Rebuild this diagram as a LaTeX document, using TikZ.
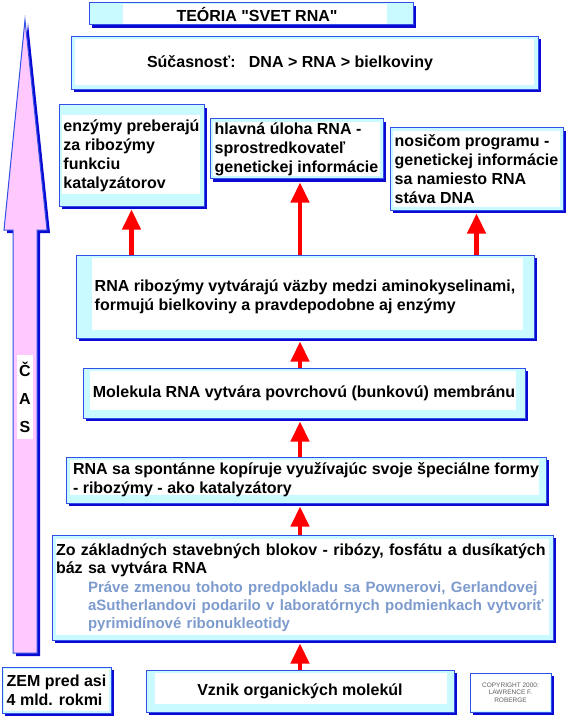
\documentclass[tikz,border=0pt]{standalone}
\usepackage{fontspec}
\setmainfont{Liberation Sans}
\newfontfamily\plainq{Liberation Sans}
\usetikzlibrary{shadows,arrows.meta}
\definecolor{bluebd}{RGB}{50,80,230}
\definecolor{shblue}{RGB}{10,10,210}
\definecolor{cyanf}{RGB}{200,250,255}
\definecolor{pinkf}{RGB}{255,200,255}
\definecolor{grayblue}{RGB}{125,155,205}
\definecolor{redar}{RGB}{255,0,0}
\definecolor{copygray}{RGB}{95,95,95}
\newcommand{\qq}{{\plainq\bfseries\symbol{34}}}
\newcommand{\gline}[1]{\hspace*{32pt}{\fontsize{15}{18}\selectfont\color{grayblue}#1}}
\tikzset{
  box/.style={rectangle, draw=bluebd, line width=1pt, fill=cyanf, inner sep=0pt,
    drop shadow={shadow xshift=3pt, shadow yshift=-3pt, fill=shblue, opacity=1},
    font=\bfseries\fontsize{16}{19}\selectfont, align=left},
  ins/.style n args={4}{path picture={\fill[white]
    ([shift={(#1pt,#4pt)}]path picture bounding box.south west) rectangle
    ([shift={(-#2pt,-#3pt)}]path picture bounding box.north east);}},
  redarrow/.style={draw=redar, line width=4.5pt, shorten >=3pt,
    -{Triangle[width=18pt,length=20pt]}},
  bigarrow/.style={fill=pinkf, draw=bluebd, line width=1pt, line join=miter},
  bigshadow/.style={fill=shblue},
}
\begin{document}
\begin{tikzpicture}[x=1pt,y=-1pt]
\useasboundingbox (0,0) rectangle (575,722);
\fill[white] (0,0) rectangle (575,722);

% big time arrow
\fill[bigshadow, shift={(3,3)}] (25,20) -- (47,230) -- (37,230) -- (37,653) -- (13,653) -- (13,230) -- (4,230) -- cycle;
\filldraw[bigarrow] (25,20) -- (47,230) -- (37,230) -- (37,653) -- (13,653) -- (13,230) -- (4,230) -- cycle;
\node[fill=white, inner sep=0pt, minimum width=16pt, minimum height=84pt,
  font=\bfseries\fontsize{16}{28}\selectfont, align=center] (cas) at (25,397) {Č\\A\\S};

% boxes
\node[box, ins={34}{26}{1}{1}, minimum width=324pt, minimum height=22pt]
  (title) at (251,14) {\hspace*{12pt}TEÓRIA \qq SVET RNA\qq};
\node[box, ins={4}{4}{3}{4}, minimum width=467pt, minimum height=53pt]
  (suc) at (304.5,63) {Súčasnosť:\ \ \ DNA > RNA > bielkoviny\hspace*{29pt}};

\node[box, ins={3}{4}{10}{12}, minimum width=145pt, minimum height=101pt]
  (lb) at (131.5,155.5) {enzýmy preberajú\\za ribozýmy\\funkciu\\katalyzátorov};
\node[box, ins={3}{3}{3}{3}, minimum width=173pt, minimum height=60pt]
  (mb) at (296.5,149) {hlavná úloha RNA -\\sprostredkovateľ\\genetickej informácie};
\node[box, ins={3}{3}{3}{3}, minimum width=173pt, minimum height=82pt]
  (rb) at (476.5,169) {nosičom programu -\\genetickej informácie\\sa namiesto RNA\\stáva DNA};

\node[box, ins={16}{11}{3}{8}, minimum width=458pt, minimum height=83pt]
  (ribo) at (305,296.5) {RNA ribozýmy vytvárajú väzby medzi aminokyselinami,\\formujú bielkoviny a pravdepodobne aj enzýmy};
\node[box, ins={7}{9}{3}{8}, minimum width=442pt, minimum height=50pt]
  (mol) at (304,393) {Molekula RNA vytvára povrchovú (bunkovú) membránu};
\node[box, ins={4}{7}{3}{8}, minimum width=480pt, minimum height=46pt]
  (rsa) at (306,480) {RNA sa spontánne kopíruje využívajúc svoje špeciálne formy\\- ribozýmy - ako katalyzátory};
\node[box, ins={4}{4}{4}{5}, minimum width=501pt, minimum height=105pt,
  font=\bfseries\fontsize{16}{18}\selectfont, text width=493pt]
  (zo) at (302.5,587.5) {Zo základných stavebných blokov - ribózy, fosfátu a dusíkatých\\báz sa vytvára RNA\\[1.5pt]
  \gline{Práve zmenou tohoto predpokladu sa Pownerovi, Gerlandovej}\\
  \gline{aSutherlandovi podarilo v laboratórnych podmienkach vytvoriť}\\
  \gline{pyrimidínové ribonukleotidy}};
\node[box, ins={9}{7}{3}{8}, minimum width=308pt, minimum height=42pt]
  (vz) at (300,691) {Vznik organických molekúl};
\node[box, ins={2}{2}{2}{2}, minimum width=109pt, minimum height=46pt]
  (zem) at (56.5,690) {ZEM pred asi\\4 mld. rokmi};
\node[box, ins={1}{1}{1}{1}, minimum width=81pt, minimum height=39pt, align=center,
  font=\fontsize{6.5}{7.5}\selectfont, text=copygray]
  (copy) at (510.5,692.5) {COPYRIGHT 2000:\\LAWRENCE F.\\ROBERGE};

% red arrows
\draw[redarrow] (ribo.north -| lb.south) -- (lb.south);
\draw[redarrow] (ribo.north -| vz.north) -- (mb.south -| vz.north);
\draw[redarrow] (ribo.north -| rb.south) -- (rb.south);
\draw[redarrow] (mol.north -| vz.north) -- (ribo.south -| vz.north);
\draw[redarrow] (rsa.north -| vz.north) -- (mol.south -| vz.north);
\draw[redarrow] (zo.north -| vz.north) -- (rsa.south -| vz.north);
\draw[redarrow] (vz.north) -- (zo.south -| vz.north);
\end{tikzpicture}
\end{document}
